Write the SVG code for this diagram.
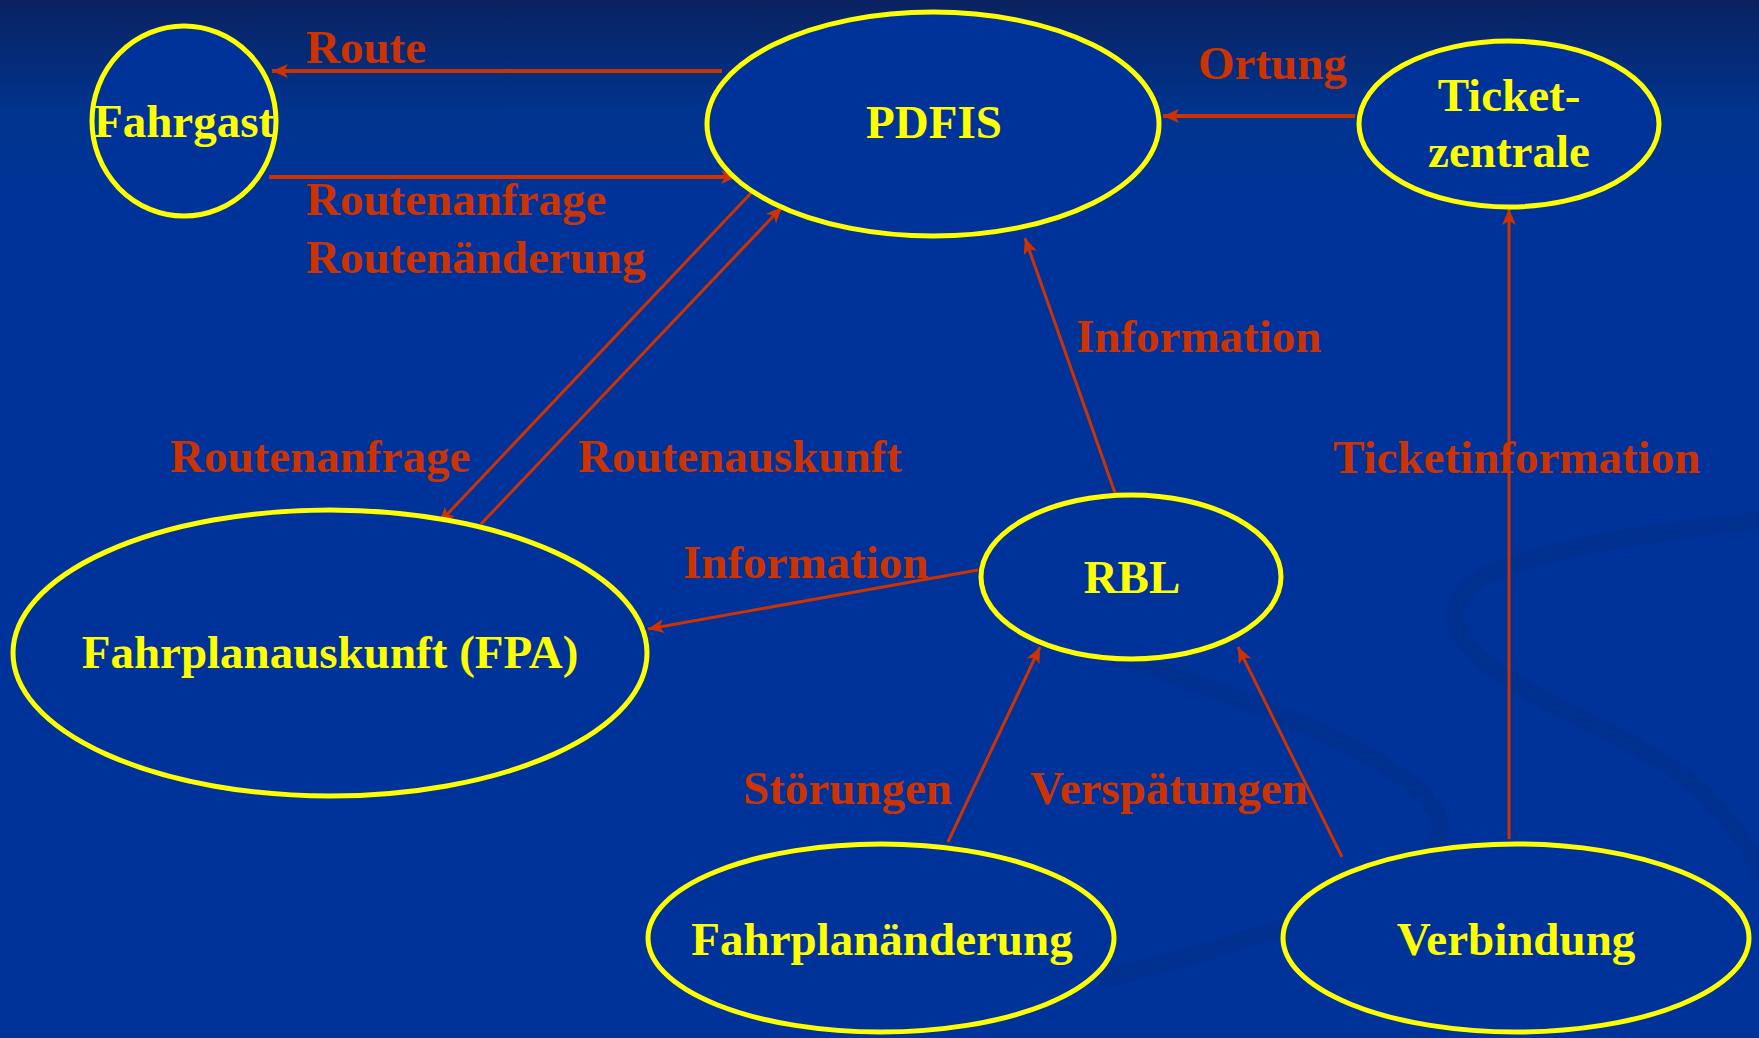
<svg xmlns="http://www.w3.org/2000/svg" width="1759" height="1038" viewBox="0 0 1759 1038">
<defs>
<linearGradient id="bg" x1="0" y1="0" x2="0" y2="1">
<stop offset="0" stop-color="#0a2260"/>
<stop offset="0.11" stop-color="#00348f"/>
<stop offset="0.2" stop-color="#003399"/>
<stop offset="1" stop-color="#003399"/>
</linearGradient>
<marker id="ah" markerUnits="userSpaceOnUse" markerWidth="18" markerHeight="14" refX="16" refY="7" orient="auto">
<path d="M0,0 L16,7 L0,14 L4,7 Z" fill="#cc3300"/>
</marker>
<style>
.node{fill:#003399;stroke:#ffff00;stroke-width:5}
.nt{font-family:"Liberation Serif",serif;font-weight:bold;font-size:47px;fill:#ffff00;text-anchor:middle}
.lb{font-family:"Liberation Serif",serif;font-weight:bold;font-size:47px;fill:#cc3300}
.c{stroke:#cc3300;stroke-width:3;fill:none;marker-end:url(#ah)}
.sw{fill:none;stroke:#002f8c;stroke-width:18;opacity:0.7}
</style>
</defs>
<rect width="1759" height="1038" fill="url(#bg)"/>
<g id="decor">
<path class="sw" d="M1759,520 C1600,540 1460,560 1455,610 C1450,680 1620,720 1700,790 C1740,830 1759,860 1759,880"/>
<path class="sw" d="M1100,650 C1250,700 1420,760 1440,820 C1455,870 1300,930 1100,980"/>
</g>
<g id="connectors">
<line class="c" x1="722" y1="71" x2="272" y2="71" style="stroke-width:4"/>
<line class="c" x1="269" y1="177" x2="737" y2="177" style="stroke-width:4"/>
<line class="c" x1="752" y1="192" x2="439" y2="523"/>
<line class="c" x1="481" y1="524" x2="782" y2="207"/>
<line class="c" x1="1355" y1="116" x2="1163" y2="116" style="stroke-width:4"/>
<line class="c" x1="1115" y1="493" x2="1025" y2="238"/>
<line class="c" x1="978" y1="570" x2="648" y2="629"/>
<line class="c" x1="1509" y1="839" x2="1509" y2="209"/>
<line class="c" x1="948" y1="842" x2="1040" y2="647"/>
<line class="c" x1="1342" y1="857" x2="1238" y2="647"/>
</g>
<g id="labels">
<text class="lb" x="306" y="63">Route</text>
<text class="lb" x="306" y="215">Routenanfrage</text>
<text class="lb" x="306" y="273">Routenänderung</text>
<text class="lb" x="170" y="472">Routenanfrage</text>
<text class="lb" x="578" y="472">Routenauskunft</text>
<text class="lb" x="1198" y="79">Ortung</text>
<text class="lb" x="1076" y="352">Information</text>
<text class="lb" x="1333" y="473">Ticketinformation</text>
<text class="lb" x="683" y="578">Information</text>
<text class="lb" x="743" y="804">Störungen</text>
<text class="lb" x="1030" y="804">Verspätungen</text>
</g>
<g id="fahrgast">
<ellipse class="node" cx="184" cy="121" rx="92" ry="95"/>
<text class="nt" x="184" y="137">Fahrgast</text>
</g>
<g id="pdfis">
<ellipse class="node" cx="933" cy="124" rx="226" ry="112"/>
<text class="nt" x="934" y="138">PDFIS</text>
</g>
<g id="ticketzentrale">
<ellipse class="node" cx="1509" cy="124" rx="150" ry="83"/>
<text class="nt" x="1509" y="111">Ticket-</text>
<text class="nt" x="1509" y="167">zentrale</text>
</g>
<g id="fpa">
<ellipse class="node" cx="330" cy="653" rx="317" ry="143"/>
<text class="nt" x="330" y="668">Fahrplanauskunft (FPA)</text>
</g>
<g id="rbl">
<ellipse class="node" cx="1131" cy="577" rx="150" ry="82"/>
<text class="nt" x="1132" y="593">RBL</text>
</g>
<g id="fahrplanaenderung">
<ellipse class="node" cx="881" cy="938" rx="233" ry="94"/>
<text class="nt" x="882" y="955">Fahrplanänderung</text>
</g>
<g id="verbindung">
<ellipse class="node" cx="1516" cy="938" rx="233" ry="94"/>
<text class="nt" x="1516" y="955">Verbindung</text>
</g>
</svg>
